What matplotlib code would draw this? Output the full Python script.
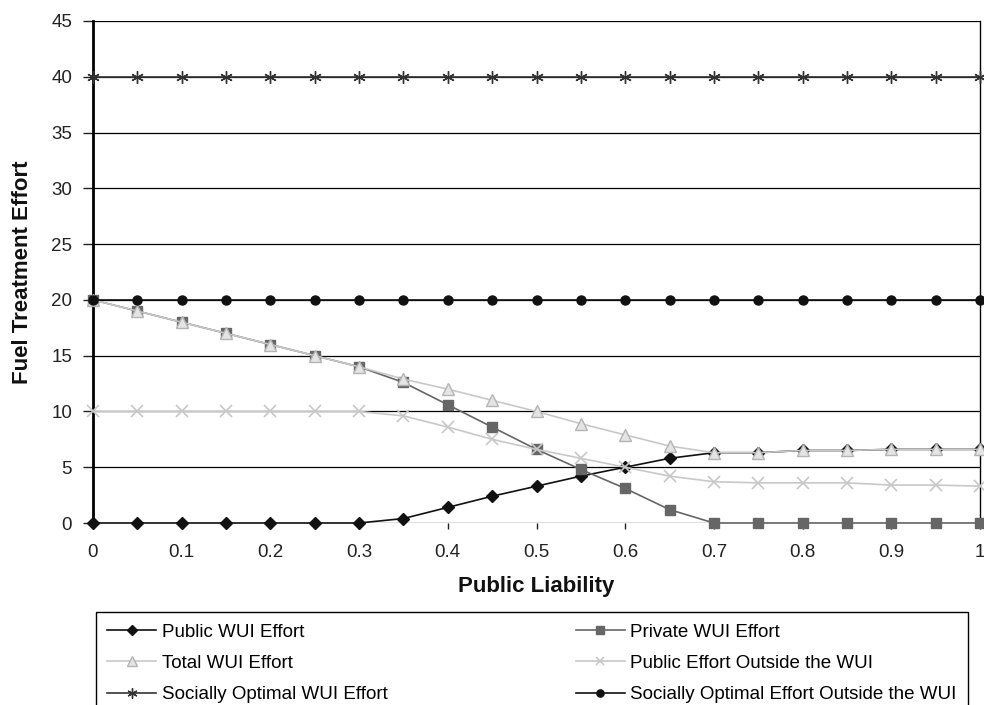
import matplotlib
matplotlib.use("Agg")
from matplotlib import pyplot as plt
import numpy as np

plt.rcParams['font.family'] = ['Liberation Sans', 'DejaVu Sans']

# public liability levels
liability = [0, 0.05, 0.1, 0.15, 0.2, 0.25, 0.3, 0.35, 0.4, 0.45, 0.5,
             0.55, 0.6, 0.65, 0.7, 0.75, 0.8, 0.85, 0.9, 0.95, 1.0]

public_wui = [0, 0, 0, 0, 0, 0, 0, 0.4, 1.4, 2.4, 3.3,
              4.2, 5.0, 5.8, 6.3, 6.3, 6.5, 6.5, 6.6, 6.6, 6.6]
private_wui = [20, 19, 18, 17, 16, 15, 14, 12.6, 10.6, 8.6, 6.6,
               4.8, 3.1, 1.2, 0, 0, 0, 0, 0, 0, 0]
total_wui = [20, 19, 18, 17, 16, 15, 14, 12.9, 12.0, 11.0, 10.0,
             8.9, 7.9, 6.9, 6.3, 6.3, 6.5, 6.5, 6.6, 6.6, 6.6]
public_outside = [10, 10, 10, 10, 10, 10, 10, 9.6, 8.6, 7.5, 6.6,
                  5.8, 5.0, 4.2, 3.7, 3.6, 3.6, 3.6, 3.4, 3.4, 3.3]
optimal_wui = [40] * 21
optimal_outside = [20] * 21

x_ticks = [0, 0.1, 0.2, 0.3, 0.4, 0.5, 0.6, 0.7, 0.8, 0.9, 1]
x_tick_labels = ["0", "0.1", "0.2", "0.3", "0.4", "0.5", "0.6", "0.7",
                 "0.8", "0.9", "1"]
y_ticks = [0, 5, 10, 15, 20, 25, 30, 35, 40, 45]

fig = plt.figure(figsize=(9.84, 7.05), dpi=100)
ax = fig.add_axes([93 / 984, 1 - 523 / 705, 887 / 984, 502 / 705])

# horizontal gridlines in black, like the spreadsheet original
for y in y_ticks:
    ax.axhline(y, color='k', linewidth=0.9, zorder=1)

common = dict(linewidth=1.2, clip_on=False, zorder=3)
l1, = ax.plot(liability, public_wui, color='#111111', marker='D',
              markersize=6, label="Public WUI Effort", **common)
l2, = ax.plot(liability, private_wui, color='#666666', marker='s',
              markersize=6.5, label="Private WUI Effort", **common)
l3, = ax.plot(liability, total_wui, color='#c8c8c8', marker='^',
              markersize=8.5, markerfacecolor='#e4e4e4',
              markeredgecolor='#b4b4b4', label="Total WUI Effort", **common)
l4, = ax.plot(liability, public_outside, color='#c8c8c8', marker='x',
              markersize=8, markeredgewidth=1.2,
              label="Public Effort Outside the WUI", **common)
l5, = ax.plot(liability, optimal_wui, color='#333333', marker=(6, 2, 0),
              markersize=9, markeredgewidth=1.0,
              label="Socially Optimal WUI Effort", **common)
l6, = ax.plot(liability, optimal_outside, color='#111111', marker='o',
              markersize=6.5,
              label="Socially Optimal Effort Outside the WUI", **common)

ax.set_xlim(0, 1)
ax.set_ylim(0, 45)
ax.set_xticks(x_ticks)
ax.set_xticklabels(x_tick_labels)
ax.set_yticks(y_ticks)
ax.tick_params(axis='both', labelsize=13.5, direction='out', length=7,
               width=1, colors='#222222', pad=8)
ax.tick_params(axis='x', length=4, pad=11)

for side in ['top', 'bottom']:
    ax.spines[side].set_visible(False)
ax.spines['left'].set_linewidth(2)
ax.spines['right'].set_linewidth(1)

ax.set_xlabel("Public Liability", fontsize=16, fontweight='bold',
              color='#111111')
ax.xaxis.set_label_coords(0.5, -0.105)
ax.set_ylabel("Fuel Treatment Effort", fontsize=16, fontweight='bold',
              va='center', color='#111111')
ax.yaxis.set_label_coords(-0.08, 0.5)

# legend fills column by column, so order entries to read row-wise
handles = [l1, l3, l5, l2, l4, l6]
fig.legend(handles=handles, labels=[h.get_label() for h in handles],
           loc='upper left', ncol=2, mode='expand',
           bbox_to_anchor=(96 / 984, 1 - 613 / 705, 872 / 984, 0.001),
           borderaxespad=0, fontsize=13.5, frameon=True, fancybox=False,
           edgecolor='k', framealpha=1, handlelength=2.6, labelspacing=0.76,
           borderpad=0.6, handletextpad=0.3, markerscale=0.8)
fig.legends[0].get_frame().set_linewidth(1)

fig.savefig("out.png", dpi=100)
